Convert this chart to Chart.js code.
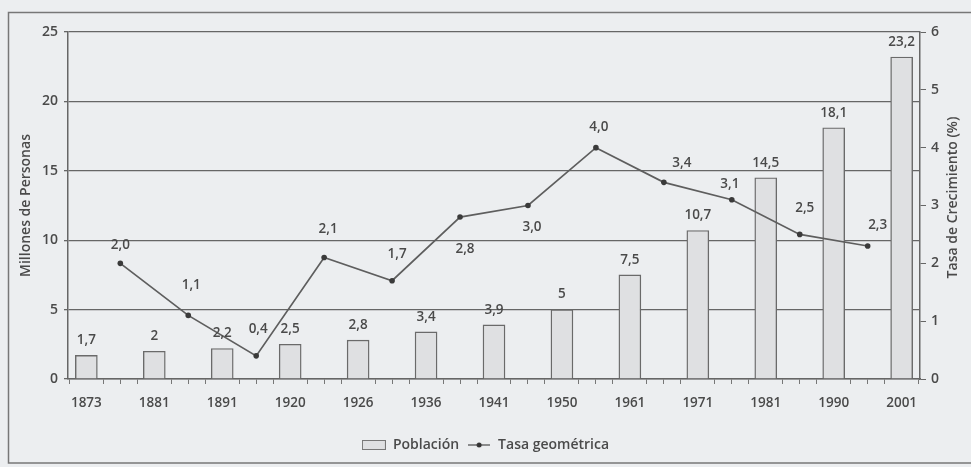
<!DOCTYPE html>
<html>
<head>
<meta charset="utf-8">
<script src="https://cdn.jsdelivr.net/npm/chart.js@4.4.1/dist/chart.umd.min.js"></script>
<style>
  html, body { margin: 0; padding: 0; background: #eceef0; }
  #wrap { position: relative; width: 971px; height: 467px; }
</style>
</head>
<body>
<div id="wrap"><canvas id="chart" width="971" height="467"></canvas></div>
<script>
// Datos de los censos
const years = ["1873", "1881", "1891", "1920", "1926", "1936", "1941", "1950", "1961", "1971", "1981", "1990", "2001"];
const poblacion = [1.7, 2, 2.2, 2.5, 2.8, 3.4, 3.9, 5, 7.5, 10.7, 14.5, 18.1, 23.2];
const tasa = [2.0, 1.1, 0.4, 2.1, 1.7, 2.8, 3.0, 4.0, 3.4, 3.1, 2.5, 2.3];
const leftTicks = [0, 5, 10, 15, 20, 25];
const rightTicks = [0, 1, 2, 3, 4, 5, 6];

// desplazamiento de las etiquetas de la tasa respecto al punto (estilo)
const rateLabelShift = [
  [0, -18], [3, -30], [2, -27], [4, -28], [5, -27], [5, 32],
  [4, 22], [3, -21], [18, -19], [-2, -16], [5, -26], [10, -21]
];

const TEXT = "#4a4a4a";
const LINE = "#666";
const FONT = "'Open Sans', 'DejaVu Sans', sans-serif";

// iconos de la leyenda
function legendBox() {
  const c = document.createElement("canvas");
  c.width = 24; c.height = 10;
  const g = c.getContext("2d");
  g.fillStyle = "#dfe0e2";
  g.strokeStyle = "#777";
  g.lineWidth = 1;
  g.fillRect(0.5, 0.5, 23, 9);
  g.strokeRect(0.5, 0.5, 23, 9);
  return c;
}
function legendLine() {
  const c = document.createElement("canvas");
  c.width = 22; c.height = 10;
  const g = c.getContext("2d");
  g.strokeStyle = "#555";
  g.lineWidth = 1.3;
  g.beginPath(); g.moveTo(0, 5); g.lineTo(22, 5); g.stroke();
  g.fillStyle = "#333";
  g.beginPath(); g.arc(11, 5, 2.5, 0, Math.PI * 2); g.fill();
  return c;
}
const legendIcons = [legendBox(), legendLine()];

const fmtPob = v => String(v).replace(".", ",");
const fmtTasa = v => v.toFixed(1).replace(".", ",");

const valueLabels = {
  id: "valueLabels",
  afterDatasetsDraw(chart) {
    const ctx = chart.ctx;
    ctx.save();
    ctx.fillStyle = TEXT;
    ctx.font = "600 13.5px " + FONT;
    ctx.textAlign = "center";
    ctx.textBaseline = "middle";
    chart.getDatasetMeta(0).data.forEach((bar, i) => {
      ctx.fillText(fmtPob(poblacion[i]), bar.x, bar.y - 15);
    });
    chart.getDatasetMeta(1).data.forEach((pt, i) => {
      const s = rateLabelShift[i];
      ctx.fillText(fmtTasa(tasa[i]), pt.x + s[0], pt.y + s[1]);
    });
    ctx.restore();
  }
};

const frameAndTitle = {
  id: "frameAndTitle",
  beforeDraw(chart) {
    const ctx = chart.ctx;
    ctx.save();
    ctx.strokeStyle = "#777";
    ctx.lineWidth = 1.5;
    ctx.strokeRect(8.5, 12.5, 990, 450.5);
    ctx.restore();
  },
  afterDraw(chart) {
    const ctx = chart.ctx;
    const area = chart.chartArea;
    ctx.save();
    ctx.translate(953, (area.top + area.bottom) / 2 - 8);
    ctx.rotate(-Math.PI / 2);
    ctx.fillStyle = TEXT;
    ctx.font = "600 14px " + FONT;
    ctx.textAlign = "center";
    ctx.textBaseline = "middle";
    ctx.fillText("Tasa de Crecimiento (%)", 0, 0);
    ctx.restore();
  }
};

const chart = new Chart(document.getElementById("chart"), {
  type: "bar",
  data: {
    datasets: [
      {
        type: "bar",
        label: "Población",
        data: poblacion.map((v, i) => ({ x: i, y: v })),
        backgroundColor: "#dfe0e2",
        borderColor: "#6a6a6a",
        borderWidth: 1.4,
        barThickness: 22,
        yAxisID: "y",
        order: 1
      },
      {
        type: "line",
        label: "Tasa geométrica",
        data: tasa.map((v, i) => ({ x: i + 0.5, y: v })),
        borderColor: "#5e5e5e",
        borderWidth: 1.7,
        pointRadius: 2.8,
        pointBackgroundColor: "#3a3a3a",
        pointBorderWidth: 0,
        tension: 0,
        yAxisID: "y1",
        order: 0
      }
    ]
  },
  options: {
    responsive: false,
    animation: false,
    devicePixelRatio: 1,
    layout: { padding: { top: 32, bottom: 5, left: 0, right: 0 } },
    scales: {
      x: {
        type: "linear",
        min: -0.27,
        max: 12.27,
        offset: false,
        afterBuildTicks(axis) {
          const t = [];
          for (let v = -0.25; v <= 12.25; v += 0.25) t.push({ value: Math.round(v * 100) / 100 });
          axis.ticks = t;
        },
        afterFit(axis) { axis.height = 51; },
        grid: {
          offset: false,
          drawOnChartArea: false,
          tickLength: 5,
          tickColor: c => (c.tick && Number.isInteger(c.tick.value)) ? "rgba(0,0,0,0)" : "#777"
        },
        border: { display: true, color: LINE, width: 1.5 },
        ticks: {
          autoSkip: false,
          maxRotation: 0,
          padding: 11,
          color: TEXT,
          font: { family: FONT, size: 13.5, weight: "600" },
          callback: v => Number.isInteger(v) ? years[v] : ""
        }
      },
      y: {
        position: "left",
        min: 0,
        max: 25,
        afterBuildTicks(axis) { axis.ticks = leftTicks.map(v => ({ value: v })); },
        afterFit(axis) { axis.width = 68; },
        grid: { color: LINE, lineWidth: 1.3, tickLength: 4 },
        border: { display: true, color: LINE, width: 1.5 },
        ticks: {
          padding: 6,
          color: TEXT,
          font: { family: FONT, size: 14, weight: "600" }
        },
        title: {
          display: true,
          text: "Millones de Personas",
          color: TEXT,
          font: { family: FONT, size: 14, weight: "600" },
          padding: { top: 18, bottom: 0 }
        }
      },
      y1: {
        position: "right",
        min: 0,
        max: 6,
        afterBuildTicks(axis) { axis.ticks = rightTicks.map(v => ({ value: v })); },
        afterFit(axis) { axis.width = 51; },
        grid: { drawOnChartArea: false, color: LINE, tickLength: 6 },
        border: { display: true, color: LINE, width: 1.5 },
        ticks: {
          padding: 5,
          color: TEXT,
          font: { family: FONT, size: 14, weight: "600" }
        }
      }
    },
    plugins: {
      legend: {
        position: "bottom",
        labels: {
          usePointStyle: true,
          pointStyleWidth: 24,
          boxHeight: 10,
          padding: 8,
          color: TEXT,
          font: { family: FONT, size: 14, weight: "600" },
          sort: (a, b) => a.datasetIndex - b.datasetIndex,
          generateLabels(chart) {
            const items = Chart.defaults.plugins.legend.labels.generateLabels(chart);
            items.forEach(it => { it.pointStyle = legendIcons[it.datasetIndex]; });
            return items;
          }
        }
      },
      tooltip: { enabled: false }
    }
  },
  plugins: [valueLabels, frameAndTitle]
});
</script>
</body>
</html>
